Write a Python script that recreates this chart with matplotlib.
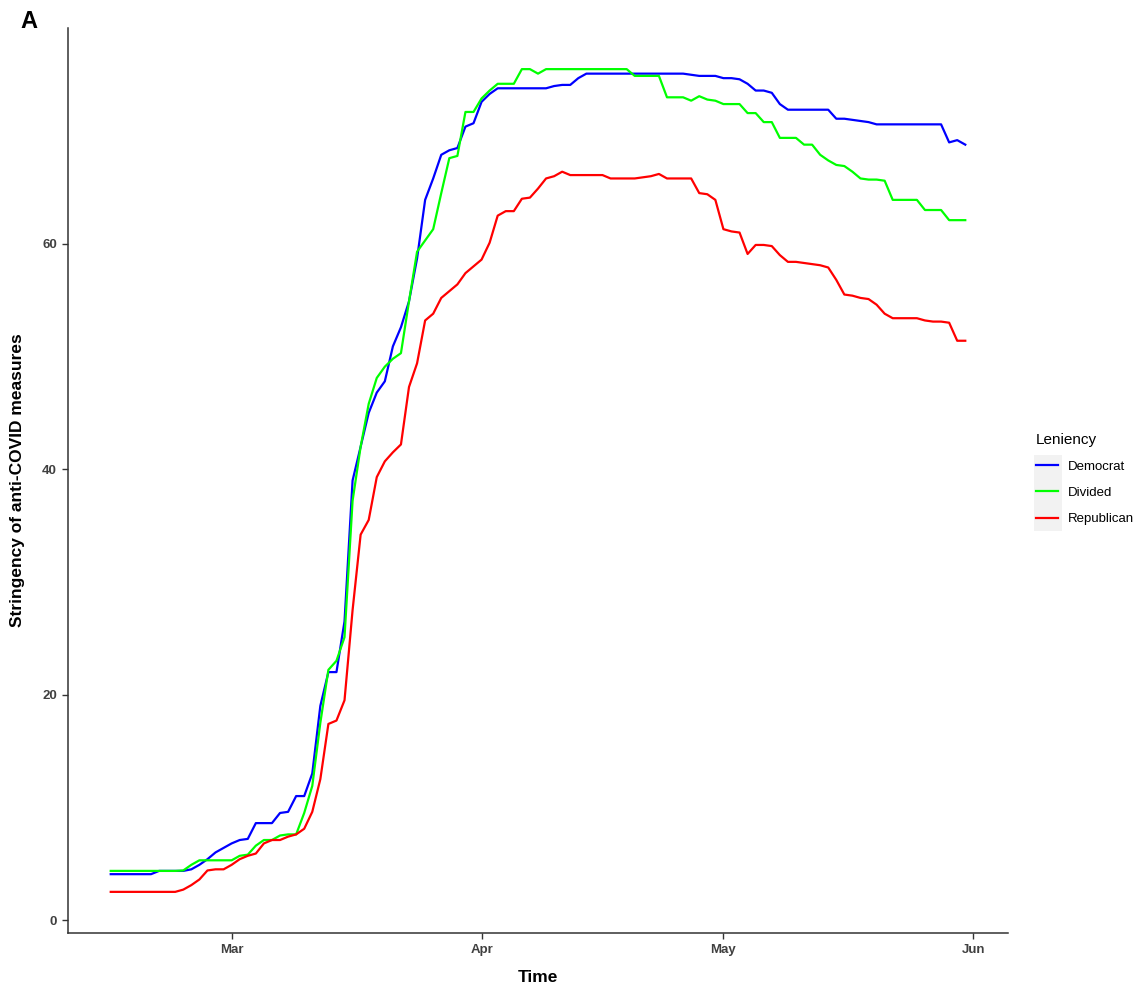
import numpy as np
import pandas as pd
import matplotlib
matplotlib.use("Agg")
import matplotlib.pyplot as plt
import matplotlib.dates as mdates
from matplotlib.patches import Rectangle

plt.rcParams['font.family'] = ['Liberation Sans', 'DejaVu Sans']

# daily values, 15 Feb - 31 May 2020
dates = pd.date_range("2020-02-15", "2020-05-31", freq="D")

democrat = [
    4.07, 4.07, 4.07, 4.07, 4.07, 4.07, 4.36, 4.36, 4.36, 4.36,
    4.5, 4.9, 5.4, 6.0, 6.4, 6.8, 7.1, 7.2, 8.6, 8.6,
    8.6, 9.5, 9.6, 11.0, 11.0, 13.0, 19.0, 22.0, 22.0, 26.5,
    39.0, 42.0, 45.0, 46.8, 47.8, 50.9, 52.6, 54.9, 58.7, 63.9,
    65.8, 67.9, 68.3, 68.5, 70.4, 70.7, 72.6, 73.3, 73.8, 73.8,
    73.8, 73.8, 73.8, 73.8, 73.8, 74.0, 74.1, 74.1, 74.7, 75.1,
    75.1, 75.1, 75.1, 75.1, 75.1, 75.1, 75.1, 75.1, 75.1, 75.1,
    75.1, 75.1, 75.0, 74.9, 74.9, 74.9, 74.7, 74.7, 74.6, 74.2,
    73.6, 73.6, 73.4, 72.4, 71.9, 71.9, 71.9, 71.9, 71.9, 71.9,
    71.1, 71.1, 71.0, 70.9, 70.8, 70.6, 70.6, 70.6, 70.6, 70.6,
    70.6, 70.6, 70.6, 70.6, 69.0, 69.2, 68.8,
]

divided = [
    4.36, 4.36, 4.36, 4.36, 4.36, 4.36, 4.36, 4.36, 4.36, 4.4,
    4.9, 5.3, 5.3, 5.3, 5.3, 5.3, 5.7, 5.8, 6.6, 7.1,
    7.1, 7.5, 7.6, 7.6, 9.5, 11.9, 17.5, 22.2, 23.0, 25.1,
    37.2, 42.0, 45.8, 48.1, 49.1, 49.8, 50.3, 54.9, 59.3, 60.3,
    61.3, 64.5, 67.6, 67.8, 71.7, 71.7, 72.9, 73.6, 74.2, 74.2,
    74.2, 75.5, 75.5, 75.1, 75.5, 75.5, 75.5, 75.5, 75.5, 75.5,
    75.5, 75.5, 75.5, 75.5, 75.5, 74.9, 74.9, 74.9, 74.9, 73.0,
    73.0, 73.0, 72.7, 73.1, 72.8, 72.7, 72.4, 72.4, 72.4, 71.6,
    71.6, 70.8, 70.8, 69.4, 69.4, 69.4, 68.8, 68.8, 67.9, 67.4,
    67.0, 66.9, 66.4, 65.8, 65.7, 65.7, 65.6, 63.9, 63.9, 63.9,
    63.9, 63.0, 63.0, 63.0, 62.1, 62.1, 62.1,
]

republican = [
    2.5, 2.5, 2.5, 2.5, 2.5, 2.5, 2.5, 2.5, 2.5, 2.7,
    3.1, 3.6, 4.4, 4.5, 4.5, 4.9, 5.4, 5.7, 5.9, 6.8,
    7.1, 7.1, 7.4, 7.6, 8.1, 9.6, 12.5, 17.4, 17.7, 19.5,
    27.5, 34.2, 35.5, 39.3, 40.7, 41.5, 42.2, 47.3, 49.4, 53.2,
    53.8, 55.2, 55.8, 56.4, 57.4, 58.0, 58.6, 60.1, 62.5, 62.9,
    62.9, 64.0, 64.1, 64.9, 65.8, 66.0, 66.4, 66.1, 66.1, 66.1,
    66.1, 66.1, 65.8, 65.8, 65.8, 65.8, 65.9, 66.0, 66.2, 65.8,
    65.8, 65.8, 65.8, 64.5, 64.4, 63.9, 61.3, 61.1, 61.0, 59.1,
    59.9, 59.9, 59.8, 59.0, 58.4, 58.4, 58.3, 58.2, 58.1, 57.9,
    56.8, 55.5, 55.4, 55.2, 55.1, 54.6, 53.8, 53.4, 53.4, 53.4,
    53.4, 53.2, 53.1, 53.1, 53.0, 51.4, 51.4,
]

groups = ["Democrat", "Divided", "Republican"]
colors = ["#0000FF", "#00FF00", "#FF0000"]

fig = plt.figure(figsize=(11.38, 9.84), dpi=100)
ax = fig.add_axes([68 / 1138, 51 / 984, 940 / 1138, 905 / 984])

for name, vals, c in zip(groups, [democrat, divided, republican], colors):
    ax.plot(dates, vals, color=c, lw=1.6, label=name, solid_joinstyle="round")

# ggplot-style 5% expansion
d0, d1 = dates[0], dates[-1]
span = d1 - d0
ax.set_xlim(d0 - span * 0.05, d1 + span * 0.05)
allv = np.concatenate([democrat, divided, republican])
rng = allv.max() - allv.min()
ax.set_ylim(allv.min() - rng * 0.05, allv.max() + rng * 0.05)

ax.xaxis.set_major_locator(mdates.MonthLocator(bymonth=[3, 4, 5, 6]))
ax.xaxis.set_major_formatter(mdates.DateFormatter("%b"))
ax.set_yticks([0, 20, 40, 60])

for s in ["top", "right"]:
    ax.spines[s].set_visible(False)
for s in ["left", "bottom"]:
    ax.spines[s].set_color("#333333")
    ax.spines[s].set_linewidth(1.1)
ax.tick_params(length=4, width=1, color="#333333", labelsize=9.5,
               labelcolor="#404040", pad=4)
for lab in ax.get_xticklabels() + ax.get_yticklabels():
    lab.set_fontweight("bold")

ax.set_xlabel("Time", fontsize=12.5, fontweight="bold", labelpad=10)
ax.set_ylabel("Stringency of anti-COVID measures", fontsize=12.5,
              fontweight="bold", labelpad=12)

fig.text(20 / 1138, 1 - 22 / 984, "A", fontsize=17, fontweight="bold",
         va="center", ha="left")

leg = fig.legend(loc="upper left", bbox_to_anchor=(1024 / 1138, 1 - 421 / 984),
                 frameon=False, title="Leniency", fontsize=9.5,
                 title_fontsize=11, handlelength=1.7, handletextpad=0.7,
                 labelspacing=1.05, alignment="left")
for h in leg.get_lines():
    h.set_linewidth(1.6)

fig.patches.append(Rectangle((1034 / 1138, 1 - 531 / 984), 28 / 1138, 76 / 984,
                             transform=fig.transFigure, facecolor="#F2F2F2",
                             edgecolor="none", zorder=0))

fig.savefig("out.png", dpi=100)
